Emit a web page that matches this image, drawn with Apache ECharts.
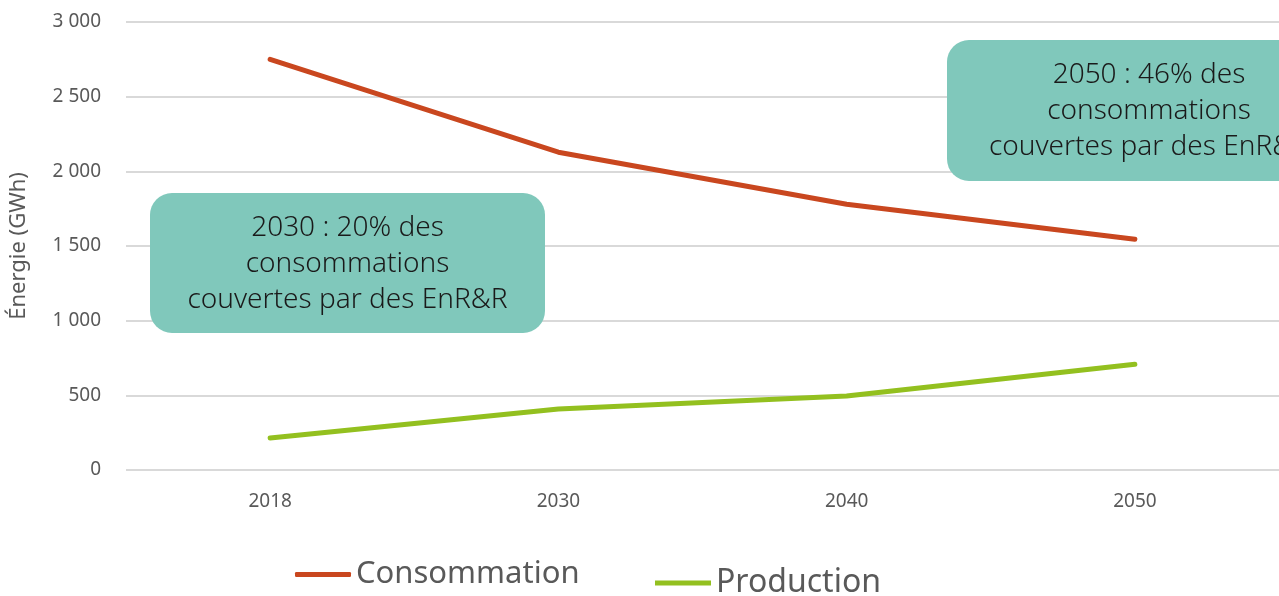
<!DOCTYPE html>
<html>
<head>
<meta charset="utf-8">
<script src="https://cdn.jsdelivr.net/npm/echarts@6/dist/echarts.min.js"></script>
<style>
  html, body { margin: 0; padding: 0; background: #fff; }
  #chart { width: 1279px; height: 596px; }
</style>
</head>
<body>
<div id="chart"></div>
<script>
// données
var years = ['2018', '2030', '2040', '2050'];
var consommation = [2750, 2128, 1780, 1545];
var production = [215, 408, 495, 708];
var yTicks = [0, 500, 1000, 1500, 2000, 2500, 3000];
var notes = ['2030 : 20% des\nconsommations\ncouvertes par des EnR&R',
             '2050 : 46% des\nconsommations\ncouvertes par des EnR&R'];

var myChart = echarts.init(document.getElementById('chart'));

function noteBox(x, y, w, h, txt){
    return {
        type: 'group', left: x, top: y,
        children: [
            { type: 'rect', z: 100, shape: { x: 0, y: 0, width: w, height: h, r: 22 },
              style: { fill: '#80C8BB' } },
            { type: 'text', z: 101, x: w / 2, y: h / 2 + 1,
              style: { text: txt, fill: '#1a1a1a', font: '300 28px "Noto Sans"',
                       align: 'center', verticalAlign: 'middle', lineHeight: 36 } }
        ]
    };
}

var option = {
    animation: false,
    grid: { left: 125, right: 0, top: 22, bottom: 126 },
    xAxis: {
        type: 'category',
        data: years,
        boundaryGap: true,
        axisLine: { show: false },
        axisTick: { show: false },
        axisLabel: { color: '#595959', fontSize: 19, margin: 22, fontFamily: 'Noto Sans' }
    },
    yAxis: {
        type: 'value',
        min: yTicks[0],
        max: yTicks[yTicks.length - 1],
        interval: 500,
        name: 'Énergie (GWh)',
        nameLocation: 'middle',
        nameGap: 96,
        nameTextStyle: { color: '#595959', fontSize: 22, fontFamily: 'Noto Sans' },
        axisLabel: {
            color: '#595959', fontSize: 19, margin: 25, fontFamily: 'Noto Sans',
            formatter: function(v){ return String(v).replace(/\B(?=(\d{3})+(?!\d))/g, ' '); }
        },
        splitLine: { lineStyle: { color: '#d9d9d9', width: 2 } }
    },
    legend: [
        { data: ['Consommation'], left: 290, top: 554, itemWidth: 56, itemHeight: 5, itemGap: 6,
          icon: 'roundRect', textStyle: { fontSize: 31, color: '#595959', fontFamily: 'Noto Sans' } },
        { data: ['Production'], left: 650, top: 562, itemWidth: 56, itemHeight: 5,
          icon: 'rect', textStyle: { fontSize: 32, color: '#595959', fontFamily: 'Noto Sans' } }
    ],
    series: [
        { name: 'Consommation', type: 'line', data: consommation, symbol: 'none',
          color: '#C9471F', lineStyle: { width: 5, cap: 'round' } },
        { name: 'Production', type: 'line', data: production, symbol: 'none',
          color: '#93C01F', lineStyle: { width: 5, cap: 'round' } }
    ],
    graphic: [
        noteBox(150, 193, 395, 140, notes[0]),
        noteBox(947, 40, 404, 141, notes[1])
    ]
};
myChart.setOption(option);
</script>
</body>
</html>
